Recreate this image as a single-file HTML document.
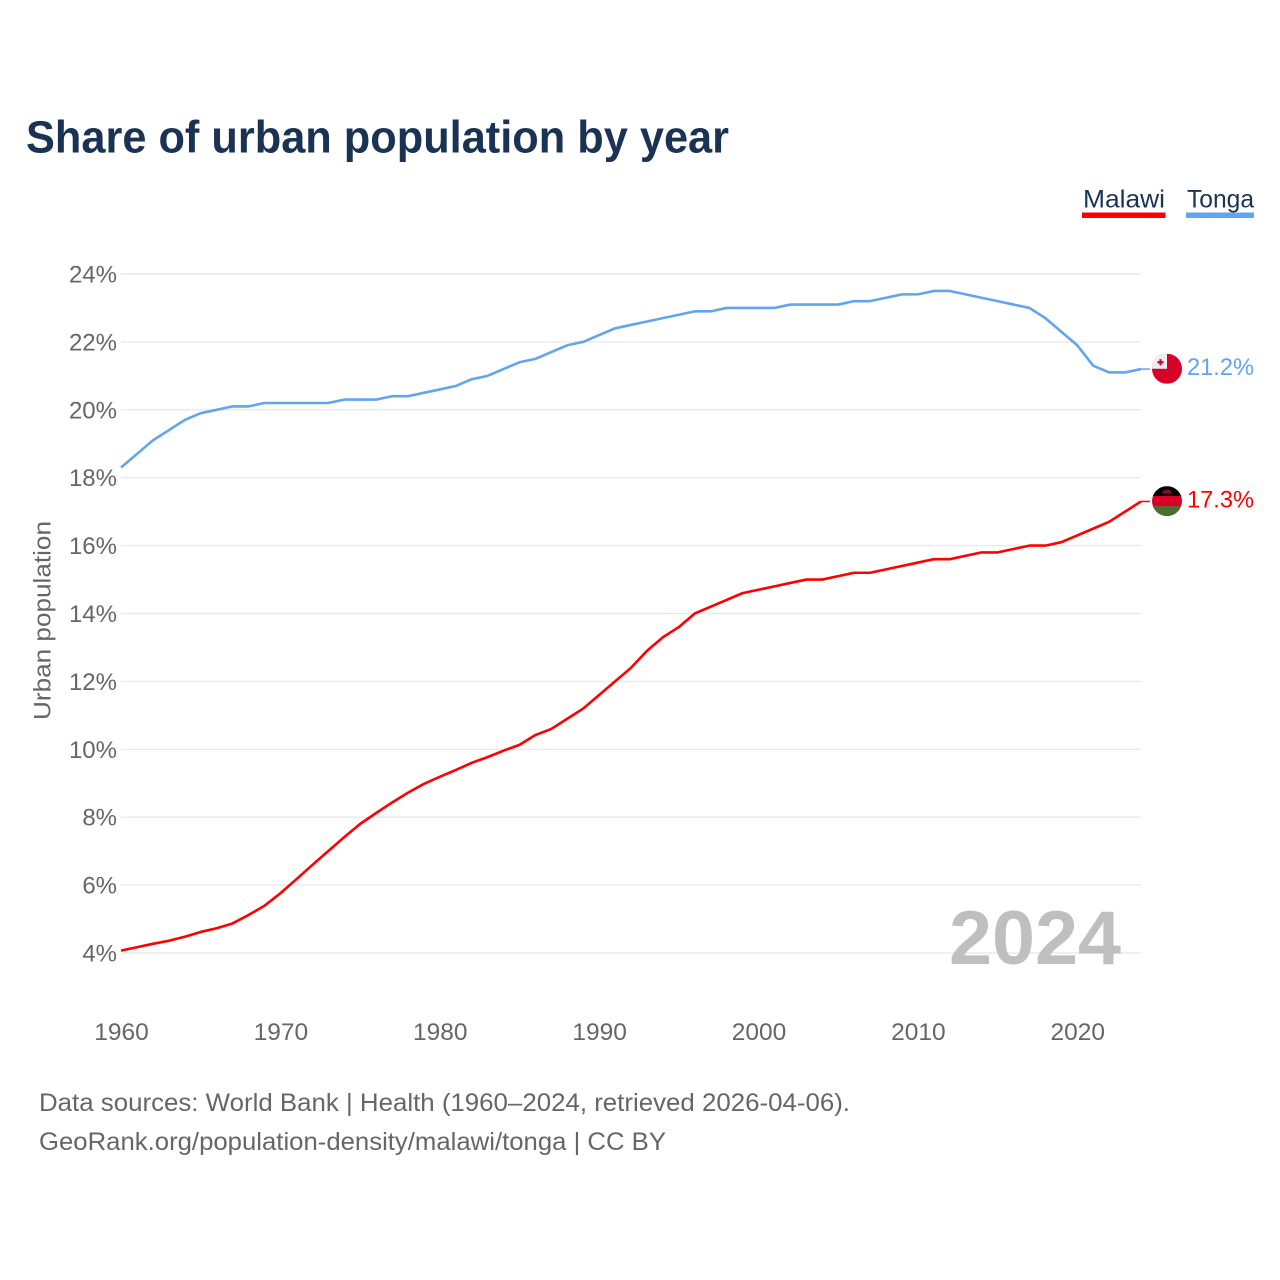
<!DOCTYPE html>
<html lang="en">
<head>
<meta charset="utf-8">
<title>Share of urban population by year</title>
<style>
  html, body { margin: 0; padding: 0; background: #fff; }
  #chart-root { display: block; width: 1280px; height: 1280px; font-family: "Liberation Sans", sans-serif; }
</style>
</head>
<body>
<svg id="chart-root" xmlns="http://www.w3.org/2000/svg" width="1280" height="1280" viewBox="0 0 1280 1280">
  <rect x="0" y="0" width="1280" height="1280" fill="#ffffff"></rect>
  <text x="26" y="152.5" font-size="45" font-weight="700" fill="#1a3354" textLength="703" lengthAdjust="spacingAndGlyphs">Share of urban population by year</text>

  <g>
    <g>
      <text x="1083" y="207.5" font-size="25" fill="#1a3354" textLength="82" lengthAdjust="spacingAndGlyphs">Malawi</text>
      <rect x="1082" y="212.5" width="83.5" height="5.5" fill="#ff0000"></rect>
    </g>
    <g>
      <text x="1187" y="207.5" font-size="25" fill="#1a3354" textLength="67" lengthAdjust="spacingAndGlyphs">Tonga</text>
      <rect x="1186" y="212.5" width="68" height="5.5" fill="#60a5ee"></rect>
    </g>
  </g>

  <g id="grid-layer"></g>
  <g id="y-tick-layer"></g>
  <g id="x-tick-layer"></g>

  <text transform="translate(50.5,620.5) rotate(-90)" text-anchor="middle" font-size="24" fill="#666666" textLength="199" lengthAdjust="spacingAndGlyphs">Urban population</text>

  <text x="949" y="964" font-size="76" font-weight="700" fill="#bfbfbf" textLength="172" lengthAdjust="spacingAndGlyphs">2024</text>

  <g id="series-layer"></g>

  <defs>
    <clipPath id="flag-clip"><circle cx="0" cy="0" r="15"></circle></clipPath>
  </defs>

  <g id="flag-tonga">
    <g clip-path="url(#flag-clip)">
      <rect x="-15" y="-15" width="30" height="30" fill="#d80027"></rect>
      <rect x="-15" y="-15" width="15" height="15" fill="#eeeeee"></rect>
      <rect x="-7.6" y="-9.6" width="2.2" height="6.2" fill="#d80027"></rect>
      <rect x="-9.6" y="-7.6" width="6.2" height="2.2" fill="#d80027"></rect>
    </g>
  </g>
  <g id="flag-malawi">
    <g clip-path="url(#flag-clip)">
      <rect x="-15" y="-15" width="30" height="10" fill="#000000"></rect>
      <rect x="-15" y="-5.2" width="30" height="10.4" fill="#d80027"></rect>
      <rect x="-15" y="5" width="30" height="10" fill="#496e2d"></rect>
      <path d="M-5,-7.5 A5,4 0 0 1 5,-7.5 Z" fill="#a2001d"></path>
    </g>
  </g>

  <text id="value-tonga" x="1187" font-size="24" fill="#60a5ee" textLength="67" lengthAdjust="spacingAndGlyphs"></text>
  <text id="value-malawi" x="1187" font-size="24" fill="#ff0000" textLength="67" lengthAdjust="spacingAndGlyphs"></text>

  <g>
    <text x="39" y="1111" font-size="25" fill="#666666" textLength="811" lengthAdjust="spacingAndGlyphs">Data sources: World Bank | Health (1960–2024, retrieved 2026-04-06).</text>
    <text x="39" y="1150" font-size="25" fill="#666666" textLength="627" lengthAdjust="spacingAndGlyphs">GeoRank.org/population-density/malawi/tonga | CC BY</text>
  </g>
</svg>

<script>
var years = [1960,1961,1962,1963,1964,1965,1966,1967,1968,1969,1970,1971,1972,1973,1974,1975,1976,1977,1978,1979,1980,1981,1982,1983,1984,1985,1986,1987,1988,1989,1990,1991,1992,1993,1994,1995,1996,1997,1998,1999,2000,2001,2002,2003,2004,2005,2006,2007,2008,2009,2010,2011,2012,2013,2014,2015,2016,2017,2018,2019,2020,2021,2022,2023,2024];
var malawiValues = [4.07,4.17,4.27,4.36,4.48,4.62,4.73,4.87,5.12,5.39,5.76,6.17,6.59,7.0,7.41,7.8,8.12,8.43,8.72,8.98,9.19,9.39,9.6,9.77,9.96,10.13,10.42,10.6,10.9,11.2,11.6,12.0,12.4,12.9,13.3,13.6,14.0,14.2,14.4,14.6,14.7,14.8,14.9,15.0,15.0,15.1,15.2,15.2,15.3,15.4,15.5,15.6,15.6,15.7,15.8,15.8,15.9,16.0,16.0,16.1,16.3,16.5,16.7,17.0,17.3];
var tongaValues = [18.3,18.7,19.1,19.4,19.7,19.9,20.0,20.1,20.1,20.2,20.2,20.2,20.2,20.2,20.3,20.3,20.3,20.4,20.4,20.5,20.6,20.7,20.9,21.0,21.2,21.4,21.5,21.7,21.9,22.0,22.2,22.4,22.5,22.6,22.7,22.8,22.9,22.9,23.0,23.0,23.0,23.0,23.1,23.1,23.1,23.1,23.2,23.2,23.3,23.4,23.4,23.5,23.5,23.4,23.3,23.2,23.1,23.0,22.7,22.3,21.9,21.3,21.1,21.1,21.2];
var yTicks = [4,6,8,10,12,14,16,18,20,22,24];
var xTicks = [1960,1970,1980,1990,2000,2010,2020];
var malawiEndLabel = "17.3%";
var tongaEndLabel = "21.2%";

var SVG_NS = "http://www.w3.org/2000/svg";
function xScale(year) { return 121 + (year - 1960) * (1020 / 64); }
function yScale(value) { return 953 - (value - 4) * 33.95; }
function make(tag, attrs) {
  var el = document.createElementNS(SVG_NS, tag);
  for (var k in attrs) { el.setAttribute(k, attrs[k]); }
  return el;
}

var gridLayer = document.getElementById("grid-layer");
var yTickLayer = document.getElementById("y-tick-layer");
yTicks.forEach(function (t) {
  var line = make("line", { x1: 121, x2: 1141, y1: yScale(t), y2: yScale(t), stroke: "#eaeaea", "stroke-width": 1.4 });
  
  
  gridLayer.appendChild(line);
  var label = make("text", { x: 117, y: yScale(t) + 8.5, "text-anchor": "end", "font-size": 24, fill: "#666666" });
  
  
  label.textContent = t + "%";
  yTickLayer.appendChild(label);
});

var xTickLayer = document.getElementById("x-tick-layer");
xTicks.forEach(function (t) {
  var label = make("text", { x: xScale(t) + 0.5, y: 1040, "text-anchor": "middle", "font-size": 24.5, fill: "#666666" });
  
  
  label.textContent = t;
  xTickLayer.appendChild(label);
});

function pointsFor(values) {
  return values.map(function (v, i) {
    return xScale(years[i]).toFixed(2) + "," + yScale(v).toFixed(2);
  }).join(" ");
}

var seriesLayer = document.getElementById("series-layer");

var tongaLine = make("polyline", { points: pointsFor(tongaValues), fill: "none", stroke: "#60a5ee", "stroke-width": 2.6, "stroke-linejoin": "round" });


seriesLayer.appendChild(tongaLine);

var malawiLine = make("polyline", { points: pointsFor(malawiValues), fill: "none", stroke: "#ff0000", "stroke-width": 2.6, "stroke-linejoin": "round" });


seriesLayer.appendChild(malawiLine);

var lastTonga = tongaValues[tongaValues.length - 1];
var lastMalawi = malawiValues[malawiValues.length - 1];
var lastX = xScale(years[years.length - 1]);

var tongaStub = make("line", { x1: lastX, x2: lastX + 9, y1: yScale(lastTonga), y2: yScale(lastTonga), stroke: "#60a5ee", "stroke-width": 1.5 });


seriesLayer.appendChild(tongaStub);

var malawiStub = make("line", { x1: lastX, x2: lastX + 9, y1: yScale(lastMalawi), y2: yScale(lastMalawi), stroke: "#ff0000", "stroke-width": 1.5 });


seriesLayer.appendChild(malawiStub);

document.getElementById("flag-tonga").setAttribute("transform", "translate(1167," + (yScale(lastTonga) - 0.3) + ")");
document.getElementById("flag-malawi").setAttribute("transform", "translate(1167," + (yScale(lastMalawi) - 0.3) + ")");

var valueTonga = document.getElementById("value-tonga");
valueTonga.setAttribute("y", yScale(lastTonga) + 6);
valueTonga.textContent = tongaEndLabel;
var valueMalawi = document.getElementById("value-malawi");
valueMalawi.setAttribute("y", yScale(lastMalawi) + 6);
valueMalawi.textContent = malawiEndLabel;
</script>
</body>
</html>
